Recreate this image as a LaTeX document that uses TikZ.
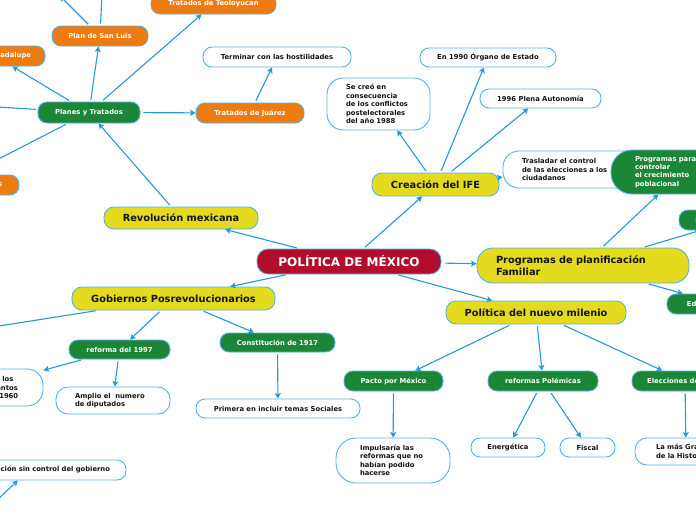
\documentclass[tikz,border=0pt]{standalone}
\usepackage{fontspec}
\setmainfont{DejaVu Sans}
\usetikzlibrary{arrows.meta}
\definecolor{cline}{HTML}{2698DD}
\definecolor{bord}{HTML}{55B2EA}
\definecolor{yel}{HTML}{E4DB1E}
\definecolor{org}{HTML}{EE7B10}
\definecolor{grn}{HTML}{1B8636}
\definecolor{crim}{HTML}{B20E2C}
\definecolor{ink}{HTML}{141414}
\tikzset{
  box/.style={draw=bord, line width=0.9pt, inner sep=0pt, align=center, font=\bfseries\fontsize{6.8}{8.4}\selectfont},
  yelbox/.style={box, fill=yel, text=ink, rounded corners=10pt, font=\bfseries\fontsize{9.8}{12}\selectfont},
  grnbox/.style={box, fill=grn, text=white, rounded corners=9pt},
  orgbox/.style={box, fill=org, text=white, rounded corners=9pt},
  whtbox/.style={box, fill=white, text=ink, rounded corners=9pt},
  conn/.style={draw=cline, line width=1.1pt, shorten <=2pt, -{Stealth[length=5.5pt,width=6pt,inset=1.2pt]}},
}
\begin{document}
\begin{tikzpicture}[x=1pt,y=-1pt]
\fill[white] (0,0) rectangle (696,520);
\useasboundingbox (0,0) rectangle (696,520);

% central and main branches
\node[box, fill=crim, text=white, rounded corners=11pt, minimum width=184pt, minimum height=25pt, font=\bfseries\fontsize{12}{14}\selectfont] (cen) at (349,261.5) {POLÍTICA DE MÉXICO};
\node[yelbox, minimum width=154pt, minimum height=22pt] (rev) at (181,218) {Revolución mexicana};
\node[yelbox, minimum width=127pt, minimum height=23pt] (ife) at (435.5,184.5) {Creación del IFE};
\node[yelbox, minimum width=203pt, minimum height=23pt] (gob) at (173.5,298.5) {Gobiernos Posrevolucionarios};
\node[yelbox, minimum width=180pt, minimum height=23pt] (mil) at (536,312.5) {Política del nuevo milenio};
\node[yelbox, rounded corners=16pt, text width=174pt, inner xsep=19pt, minimum height=35pt, align=left] (prog) at (583,265.5) {Programas de planificación\\Familiar};

% Revolucion mexicana
\node[grnbox, minimum width=102pt, minimum height=21pt] (pyt) at (89,112.5) {Planes y Tratados};
\node[orgbox, minimum width=96pt, minimum height=20pt] (psl) at (100,36) {Plan de San Luis};
\node[orgbox, minimum width=125pt, minimum height=20pt] (teo) at (213.5,4) {Tratados de Teoloyucan};
\node[orgbox, minimum width=100pt, minimum height=20pt] (gua) at (-5,56) {Plan de Guadalupe};
\node[orgbox, minimum width=142pt, minimum height=20pt] (ags) at (-52,185) {Acuerdos de Aguascalientes};
\node[orgbox, minimum width=108pt, minimum height=20pt] (tju) at (250,113) {Tratados de Juárez};
\node[whtbox, minimum width=148pt, minimum height=20pt] (ter) at (277,57) {Terminar con las hostilidades};
\coordinate (cA) at (60,-4);
\coordinate (cB) at (102,-6);
\coordinate (cD) at (-20,106);

% IFE
\node[whtbox, rounded corners=16pt, text width=65pt, inner xsep=19pt, minimum height=52pt, align=left] (scr) at (378.5,104) {Se creó en\\consecuencia\\de los conflictos\\postelectorales\\del año 1988};
\node[whtbox, minimum width=136pt, minimum height=19pt] (o90) at (488,57.5) {En 1990 Órgano de Estado};
\node[whtbox, minimum width=121pt, minimum height=19pt] (p96) at (540.5,98.5) {1996 Plena Autonomía};
\node[whtbox, rounded corners=16pt, text width=99pt, inner xsep=19pt, minimum height=37pt, align=left] (tra) at (571.5,169.5) {Trasladar el control\\de las elecciones a los\\ciudadanos};

% Programas de planificacion
\node[grnbox, rounded corners=21pt, text width=94pt, inner xsep=24pt, minimum height=44pt, align=left] (ppc) at (682,172) {Programas para\\controlar\\el crecimiento\\poblacional};
\node[grnbox, minimum width=112pt, minimum height=20pt] (dif) at (735,220) {Difusión de métodos};
\node[grnbox, minimum width=106pt, minimum height=20pt] (edu) at (720,304) {Educación sexual};

% Politica del nuevo milenio
\node[grnbox, minimum width=99pt, minimum height=20pt] (pac) at (393.5,381) {Pacto por México};
\node[grnbox, minimum width=110pt, minimum height=20pt] (rpo) at (543,381) {reformas Polémicas};
\node[grnbox, minimum width=106pt, minimum height=20pt] (ele) at (685,381) {Elecciones del 2018};
\node[whtbox, rounded corners=20pt, text width=66pt, inner xsep=24pt, minimum height=45pt, align=left] (imp) at (393,460.5) {Impulsaría las\\reformas que no\\habían podido\\hacerse};
\node[whtbox, minimum width=74pt, minimum height=19pt] (ene) at (508,447.5) {Energética};
\node[whtbox, minimum width=55pt, minimum height=19pt] (fis) at (587.5,447.5) {Fiscal};
\node[whtbox, rounded corners=12pt, text width=60pt, inner xsep=21pt, minimum height=27pt, align=left] (lmg) at (686,451.5) {La más Grande\\de la Historia};

% Gobiernos posrevolucionarios
\node[grnbox, minimum width=101pt, minimum height=19pt] (r97) at (119.5,349.5) {reforma del 1997};
\node[grnbox, minimum width=115pt, minimum height=19pt] (c17) at (277.5,342.5) {Constitución de 1917};
\node[whtbox, minimum width=164pt, minimum height=19pt] (pri) at (278,408.5) {Primera en incluir temas Sociales};
\node[whtbox, rounded corners=12pt, text width=76pt, inner xsep=19pt, minimum height=27pt, align=left] (amp) at (113,400.5) {Amplio el\ \ numero\\de diputados};
\node[whtbox, rounded corners=16pt, text width=90pt, inner xsep=18pt, minimum height=37pt, align=left] (par) at (-20,387.5) {Se incorporan en los\\diversos Parlamentos\\desde la década 1960};
\coordinate (cF) at (-20,329);

% bottom left
\node[whtbox, text width=162pt, inner xsep=16pt, minimum height=20pt, align=right] (bl) at (29,470) {Organización sin control del gobierno};
\coordinate (cG) at (-20,516);

% connectors
\draw[conn] (cen) -- (rev);
\draw[conn] (cen) -- (ife);
\draw[conn] (cen) -- (gob);
\draw[conn, shorten <=4pt] (cen) -- (prog);
\draw[conn] (cen) -- (mil);

\draw[conn] (rev) -- (pyt);
\draw[conn] (pyt) -- (psl);
\draw[conn] (pyt) -- (teo);
\draw[conn] (pyt) -- (gua);
\draw[conn] (pyt) -- (ags);
\draw[conn, shorten <=3pt] (pyt) -- (tju);
\draw[conn] (pyt) -- (cD);
\draw[conn] (tju) -- (ter);
\draw[conn] (psl) -- (cA);
\draw[conn] (psl) -- (cB);

\draw[conn] (ife) -- (scr);
\draw[conn] (ife) -- (o90);
\draw[conn] (ife) -- (p96);
\draw[conn, shorten <=0pt] (ife) -- (tra);

\draw[conn] (prog) -- (ppc);
\draw[conn] (prog) -- (dif);
\draw[conn] (prog) -- (edu);

\draw[conn] (mil) -- (pac);
\draw[conn] (mil) -- (rpo);
\draw[conn] (mil) -- (ele);
\draw[conn] (pac) -- (imp);
\draw[conn] (rpo) -- (ene);
\draw[conn] (rpo) -- (fis);
\draw[conn] (ele) -- (lmg);

\draw[conn] (gob) -- (r97);
\draw[conn] (gob) -- (c17);
\draw[conn] (gob) -- (cF);
\draw[conn] (c17) -- (pri);
\draw[conn] (r97) -- (amp);
\draw[conn] (r97) -- (par);
\draw[conn] (cG) -- (bl);
\end{tikzpicture}
\end{document}
